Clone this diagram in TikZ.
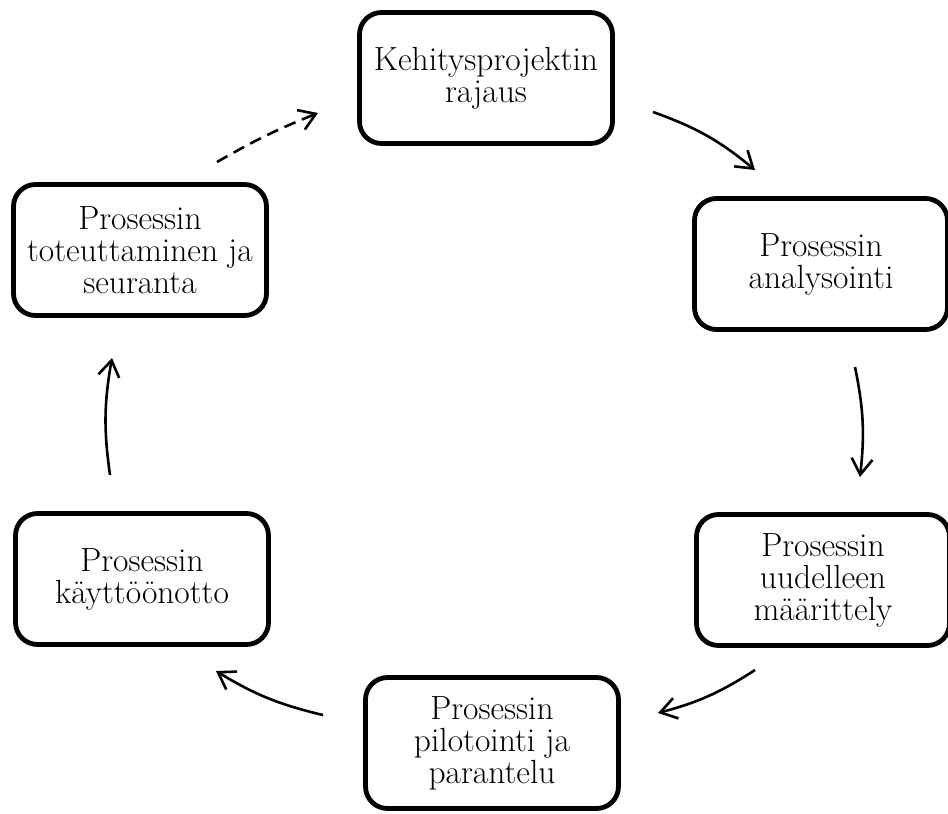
\documentclass[tikz,border=0pt]{standalone}
\usepackage{fontspec}
\usetikzlibrary{arrows.meta}
\begin{document}
\begin{tikzpicture}[x=1pt,y=-1pt,
  stage/.style={draw=black, line width=4.8pt, rounded corners=22pt,
    minimum width=253pt, minimum height=131pt, align=center,
    font=\fontsize{33.5}{32}\selectfont, inner sep=0pt},
  cyc/.style={line width=2.6pt, -{Straight Barb[length=16pt,width=21pt]}},
  cycdash/.style={cyc, dash pattern=on 12pt off 7pt}
]
\useasboundingbox (0,0) rectangle (948,814);
\node[stage] (A) at (486,78)  {Kehitysprojektin\\rajaus};
\node[stage] (B) at (821,264) {Prosessin\\analysointi};
\node[stage] (C) at (823,580) {Prosessin\\uudelleen\\määrittely};
\node[stage] (D) at (492,743) {Prosessin\\pilotointi ja\\parantelu};
\node[stage] (E) at (142,579) {Prosessin\\käyttöönotto};
\node[stage] (F) at (140,250) {Prosessin\\toteuttaminen ja\\seuranta};

\coordinate (ab1) at (653,112); \coordinate (ab2) at (755,170);
\coordinate (bc1) at (855,367); \coordinate (bc2) at (860,477);
\coordinate (cd1) at (755,670); \coordinate (cd2) at (658,713);
\coordinate (de1) at (323,715); \coordinate (de2) at (216,671);
\coordinate (ef1) at (110,475); \coordinate (ef2) at (112,358);
\coordinate (fa1) at (217,162); \coordinate (fa2) at (318,113);

\draw[cyc] (ab1) to[bend left=10] (ab2);
\draw[cyc] (bc1) to[bend left=9] (bc2);
\draw[cyc] (cd1) to[bend left=9] (cd2);
\draw[cyc] (de1) to[bend left=9] (de2);
\draw[cyc] (ef1) to[bend left=9] (ef2);
\draw[cycdash] (fa1) to[bend left=4] (fa2);
\end{tikzpicture}
\end{document}
